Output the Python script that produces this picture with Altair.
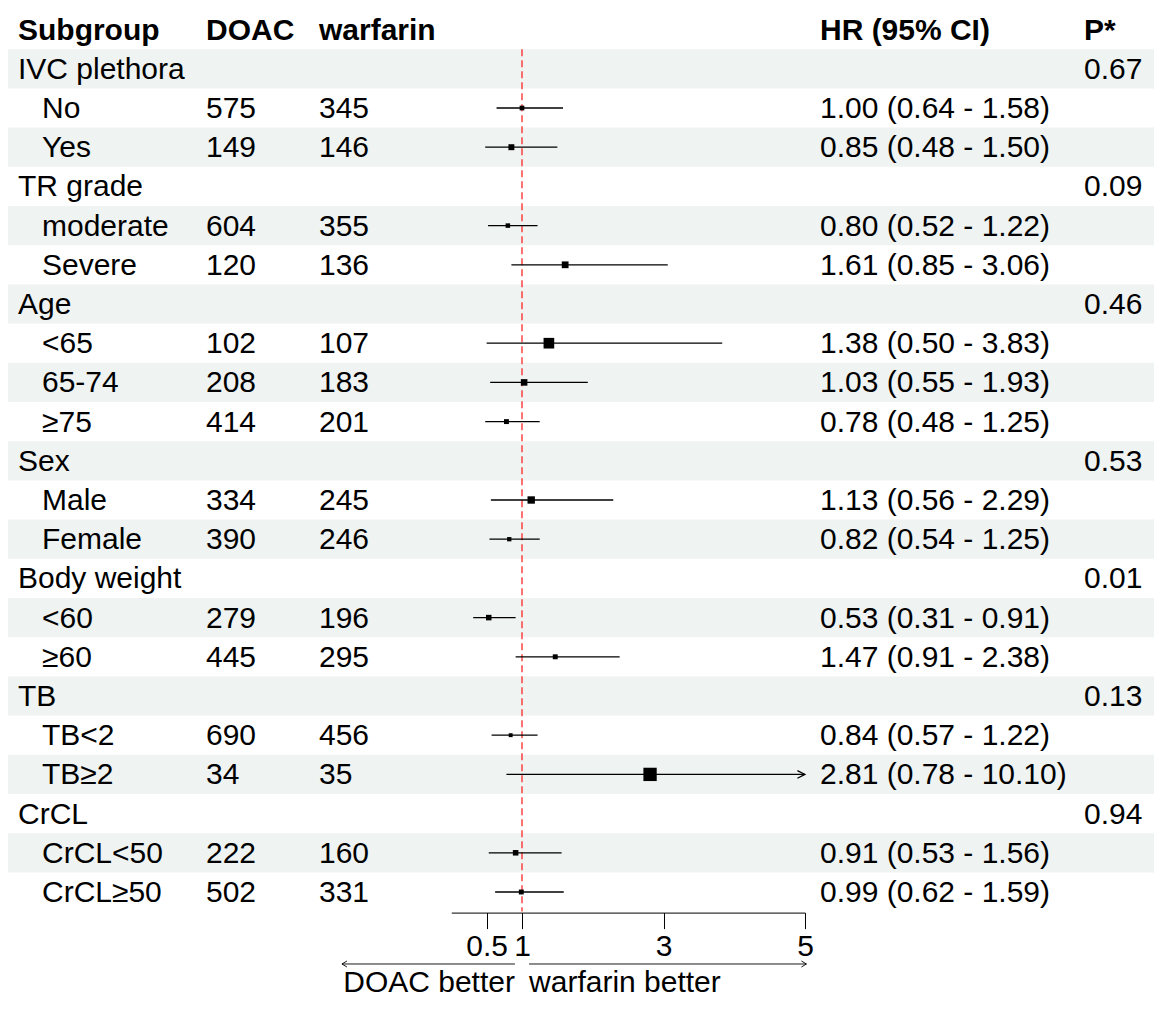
import altair as alt
import pandas as pd

# ---- data ----
labels = ["IVC plethora", "No", "Yes", "TR grade", "moderate", "Severe", "Age", "<65", "65-74", "≥75",
          "Sex", "Male", "Female", "Body weight", "<60", "≥60", "TB", "TB<2", "TB≥2", "CrCL",
          "CrCL<50", "CrCL≥50"]
is_group = [1, 0, 0, 1, 0, 0, 1, 0, 0, 0, 1, 0, 0, 1, 0, 0, 1, 0, 0, 1, 0, 0]
doac = ["", "575", "149", "", "604", "120", "", "102", "208", "414", "", "334", "390", "", "279", "445",
        "", "690", "34", "", "222", "502"]
warfarin = ["", "345", "146", "", "355", "136", "", "107", "183", "201", "", "245", "246", "", "196", "295",
            "", "456", "35", "", "160", "331"]
hr = [None, 1.00, 0.85, None, 0.80, 1.61, None, 1.38, 1.03, 0.78, None, 1.13, 0.82, None, 0.53, 1.47,
      None, 0.84, 2.81, None, 0.91, 0.99]
lower = [None, 0.64, 0.48, None, 0.52, 0.85, None, 0.50, 0.55, 0.48, None, 0.56, 0.54, None, 0.31, 0.91,
         None, 0.57, 0.78, None, 0.53, 0.62]
upper = [None, 1.58, 1.50, None, 1.22, 3.06, None, 3.83, 1.93, 1.25, None, 2.29, 1.25, None, 0.91, 2.38,
         None, 1.22, 10.10, None, 1.56, 1.59]
# box weight (standard error)
weight = [None, 0.23, 0.29, None, 0.22, 0.33, None, 0.52, 0.32, 0.24, None, 0.36, 0.21, None, 0.27, 0.24,
          None, 0.19, 0.65, None, 0.27, 0.24]
pvals = ["0.67", "", "", "0.09", "", "", "0.46", "", "", "", "0.53", "", "", "0.01", "", "", "0.13", "",
         "", "0.94", "", ""]
headers = ["Subgroup", "DOAC", "warfarin", "HR (95% CI)", "P*"]
x_ticks = [0.5, 1, 3, 5]
x_lim = [0, 5]
ref_value = 1
arrow_text = ["DOAC better", "warfarin better"]

FONT = "Liberation Sans, Arial, Helvetica, sans-serif"
FS = 30
STEP = 39.2
NROW = len(labels) + 1
H = round(STEP * NROW, 1)
W = 1146
PAD_TOP = 2
PAD_BOTTOM = 87
SHADE = "#eff3f2"

rows = []
for i, lab in enumerate(labels):
    r = {"row": i + 1, "label": lab, "group": is_group[i], "doac": doac[i], "warf": warfarin[i],
         "p": pvals[i], "hr": hr[i], "lo": lower[i], "hi": upper[i], "w": weight[i]}
    if hr[i] is not None:
        r["hrtxt"] = f"{hr[i]:.2f} ({lower[i]:.2f} - {upper[i]:.2f})"
        r["hi_c"] = min(upper[i], x_lim[1])
        r["clipped"] = upper[i] > x_lim[1]
    else:
        r["hrtxt"] = ""
    rows.append(r)
df = pd.DataFrame(rows)
est = df[df["hr"].notna()].copy()
clipped = est[est["clipped"] == True]

ydom = list(range(NROW))
Y = alt.Y("row:O", scale=alt.Scale(domain=ydom, paddingInner=0, paddingOuter=0), axis=None)
xscale = alt.Scale(domain=x_lim, range=[443.25, 797], nice=False, zero=False)

base = alt.Chart(df)

stripes = alt.Chart(df[df["row"] % 2 == 1]).mark_rect(color=SHADE).encode(
    y=Y, x=alt.value(0), x2=alt.value(W)
)

txt = dict(font=FONT, fontSize=FS, align="left", baseline="middle", color="black", dy=1)

group_txt = alt.Chart(df[df["group"] == 1]).mark_text(**txt).encode(
    y=Y, x=alt.value(10), text="label:N")
sub_txt = alt.Chart(df[df["group"] == 0]).mark_text(**txt).encode(
    y=Y, x=alt.value(34), text="label:N")
doac_txt = base.mark_text(**txt).encode(y=Y, x=alt.value(198), text="doac:N")
warf_txt = base.mark_text(**txt).encode(y=Y, x=alt.value(311), text="warf:N")
hr_txt = base.mark_text(**txt).encode(y=Y, x=alt.value(812), text="hrtxt:N")
p_txt = base.mark_text(**txt).encode(y=Y, x=alt.value(1076), text="p:N")

hdf = pd.DataFrame({"row": [0] * 5, "h": headers, "xp": [10, 198, 311, 812, 1076]})
head_layers = [
    alt.Chart(hdf[hdf["h"] == h]).mark_text(fontWeight="bold", **txt).encode(
        y=Y, x=alt.value(int(xp)), text="h:N")
    for h, xp in zip(hdf["h"], hdf["xp"])
]

ref = alt.Chart(pd.DataFrame({"x": [ref_value], "row": [1]})).mark_rule(
    color="#ff0000", strokeDash=[7, 4], strokeWidth=1.1
).encode(
    x=alt.X("x:Q", scale=xscale),
    y=alt.Y("row:O", scale=alt.Scale(domain=ydom, paddingInner=0, paddingOuter=0), axis=None,
            bandPosition=0),
    y2=alt.value(H),
)

ci = alt.Chart(est).mark_rule(color="black", strokeWidth=1.3).encode(
    x=alt.X("lo:Q", scale=xscale,
            axis=alt.Axis(values=x_ticks, title=None, grid=False, domainColor="black", tickColor="black",
                          domainWidth=1, tickWidth=1, tickSize=16, labelFont=FONT, labelFontSize=FS,
                          labelColor="black", labelPadding=3, labelFlush=False, labelOverlap=False,
                          offset=1, format="~g")),
    x2="hi_c:Q",
    y=Y,
)

boxes = alt.Chart(est).mark_square(color="black", filled=True, opacity=1).encode(
    x=alt.X("hr:Q", scale=xscale),
    y=Y,
    size=alt.Size("w:Q", scale=alt.Scale(type="pow", exponent=2, domain=[0, 1], range=[0, 420]),
                  legend=None),
)

clip_arrow = alt.Chart(clipped).mark_point(
    shape="M-1,-0.5L0,0L-1,0.5", filled=False, color="black", strokeWidth=1.2, size=230, opacity=1
).encode(x=alt.X("hi_c:Q", scale=xscale), y=Y)

# direction arrows below axis
arr_df = pd.DataFrame({"x": [0.90, 1.10], "x2": [-1.545, 5.02], "t": arrow_text})
AY = 954
TY = 973
arrows = alt.Chart(arr_df).mark_rule(color="black", strokeWidth=0.9).encode(
    x=alt.X("x:Q", scale=xscale), x2="x2:Q", y=alt.value(AY))
head_l = alt.Chart(arr_df.iloc[[0]]).mark_point(
    shape="M1,-0.6L0,0L1,0.6", filled=False, color="black", strokeWidth=0.9, size=100, opacity=1
).encode(x=alt.X("x2:Q", scale=xscale), y=alt.value(AY))
head_r = alt.Chart(arr_df.iloc[[1]]).mark_point(
    shape="M-1,-0.6L0,0L-1,0.6", filled=False, color="black", strokeWidth=0.9, size=100, opacity=1
).encode(x=alt.X("x2:Q", scale=xscale), y=alt.value(AY))
lab_l = alt.Chart(arr_df.iloc[[0]]).mark_text(
    font=FONT, fontSize=FS, align="right", baseline="middle", color="black"
).encode(x=alt.X("x:Q", scale=xscale), y=alt.value(TY), text="t:N")
lab_r = alt.Chart(arr_df.iloc[[1]]).mark_text(
    font=FONT, fontSize=FS, align="left", baseline="middle", color="black"
).encode(x=alt.X("x:Q", scale=xscale), y=alt.value(TY), text="t:N")

chart = alt.layer(
    stripes, ref, ci, boxes, clip_arrow,
    group_txt, sub_txt, doac_txt, warf_txt, hr_txt, p_txt, *head_layers,
    arrows, head_l, head_r, lab_l, lab_r,
).properties(
    width=W, height=H,
    background="white",
    padding={"top": PAD_TOP, "left": 0, "right": 0, "bottom": PAD_BOTTOM},
    autosize=alt.AutoSizeParams(type="none"),
).configure_view(stroke=None)

chart.save("out.html", embed_options={"renderer": "svg", "actions": False})
